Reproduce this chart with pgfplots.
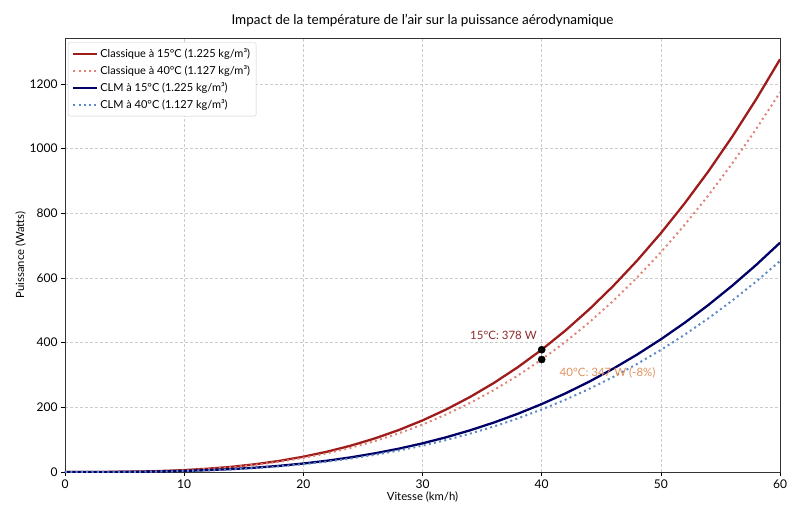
\documentclass[border=0pt]{standalone}
\usepackage{fontspec}
\setmainfont{Lato}
\usepackage{pgfplots}
\pgfplotsset{compat=1.18}
\definecolor{c15}{HTML}{9E1C1C}
\definecolor{c40}{HTML}{E08478}
\definecolor{b15}{HTML}{000066}
\definecolor{b40}{HTML}{5B8AC4}
\definecolor{lab15}{HTML}{8E2A2A}
\definecolor{lab40}{HTML}{E0925E}
\begin{document}
\begin{tikzpicture}
\useasboundingbox (-65pt,-48pt) rectangle (735pt,472pt);
\begin{axis}[
  at={(0pt,0pt)}, anchor=south west,
  scale only axis, width=715pt, height=434pt,
  xmin=0, xmax=60, ymin=0, ymax=1342,
  xtick={0,10,20,30,40,50,60},
  ytick={0,200,400,600,800,1000,1200},
  tick align=outside, tick pos=left,
  major tick length=4pt,
  tick style={black, line width=0.6pt},
  axis line style={black!80, line width=0.8pt},
  grid=major,
  grid style={dash pattern=on 3pt off 2pt, black!20, line width=0.5pt},
  /pgf/number format/assume math mode=true,
  /pgf/number format/1000 sep={},
  ticklabel style={font=\fontsize{12}{14}\selectfont},
  title={Impact de la température de l'air sur la puissance aérodynamique},
  title style={font=\fontsize{13.5}{16}\selectfont, yshift=2pt},
  xlabel={Vitesse (km/h)},
  ylabel={Puissance (Watts)},
  label style={font=\fontsize{11.3}{13}\selectfont},
  xlabel style={yshift=3pt},
  ylabel style={yshift=-3pt},
  legend pos=north west,
  legend cell align=left,
  legend style={font=\fontsize{11}{13}\selectfont, draw=black!20, rounded corners=2pt, row sep=2.5pt, inner sep=4pt, at={(0.004,0.99)}},
  legend image code/.code={\draw[#1] (0pt,0pt) -- (24pt,0pt);},
]
\addplot[c15, line width=2.3pt] coordinates {
(0,0) (2,0.047) (4,0.378) (6,1.276) (8,3.025) (10,5.908) (12,10.21) (14,16.21) (16,24.20) (18,34.45) (20,47.26) (22,62.90) (24,81.67) (26,103.83) (28,129.68) (30,159.51) (32,193.58) (34,232.19) (36,275.62) (38,324.16) (40,378.09) (42,437.68) (44,503.24) (46,575.02) (48,653.33) (50,738.45) (52,830.66) (54,930.23) (56,1037.47) (58,1152.65) (60,1276.04)};
\addlegendentry{Classique à 15°C (1.225 kg/m³)}
\addplot[c40, line width=2pt, dash pattern=on 2pt off 3.3pt] coordinates {
(0,0) (2,0.043) (4,0.348) (6,1.174) (8,2.783) (10,5.435) (12,9.39) (14,14.91) (16,22.26) (18,31.69) (20,43.48) (22,57.87) (24,75.14) (26,95.52) (28,119.31) (30,146.75) (32,178.09) (34,213.61) (36,253.57) (38,298.23) (40,347.84) (42,402.67) (44,462.98) (46,529.02) (48,601.06) (50,679.37) (52,764.21) (54,855.81) (56,954.47) (58,1060.44) (60,1173.96)};
\addlegendentry{Classique à 40°C (1.127 kg/m³)}
\addplot[b15, line width=2.3pt] coordinates {
(0,0) (2,0.026) (4,0.21) (6,0.709) (8,1.68) (10,3.28) (12,5.67) (14,9.01) (16,13.44) (18,19.14) (20,26.26) (22,34.94) (24,45.37) (26,57.68) (28,72.04) (30,88.61) (32,107.55) (34,128.99) (36,153.12) (38,180.09) (40,210.05) (42,243.16) (44,279.58) (46,319.46) (48,362.96) (50,410.25) (52,461.48) (54,516.79) (56,576.37) (58,640.36) (60,708.91)};
\addlegendentry{CLM à 15°C (1.225 kg/m³)}
\addplot[b40, line width=2pt, dash pattern=on 2pt off 3.3pt] coordinates {
(0,0) (2,0.024) (4,0.193) (6,0.652) (8,1.546) (10,3.02) (12,5.22) (14,8.29) (16,12.36) (18,17.61) (20,24.16) (22,32.15) (24,41.74) (26,53.07) (28,66.29) (30,81.52) (32,98.94) (34,118.67) (36,140.87) (38,165.68) (40,193.25) (42,223.71) (44,257.21) (46,293.90) (48,333.92) (50,377.43) (52,424.56) (54,475.45) (56,530.26) (58,589.13) (60,652.20)};
\addlegendentry{CLM à 40°C (1.127 kg/m³)}
\addplot[only marks, mark=*, mark size=3.6pt, black, forget plot] coordinates {(40,378.09) (40,347.84)};
\node[anchor=east, text=lab15, font=\fontsize{11.5}{13}\selectfont, inner sep=0pt] at (axis cs:39.6,421) {15°C: 378 W};
\node[anchor=west, text=lab40, font=\fontsize{11.5}{13}\selectfont, inner sep=0pt] at (axis cs:41.5,306) {40°C: 347 W (-8\%)};
\end{axis}
\end{tikzpicture}
\end{document}
